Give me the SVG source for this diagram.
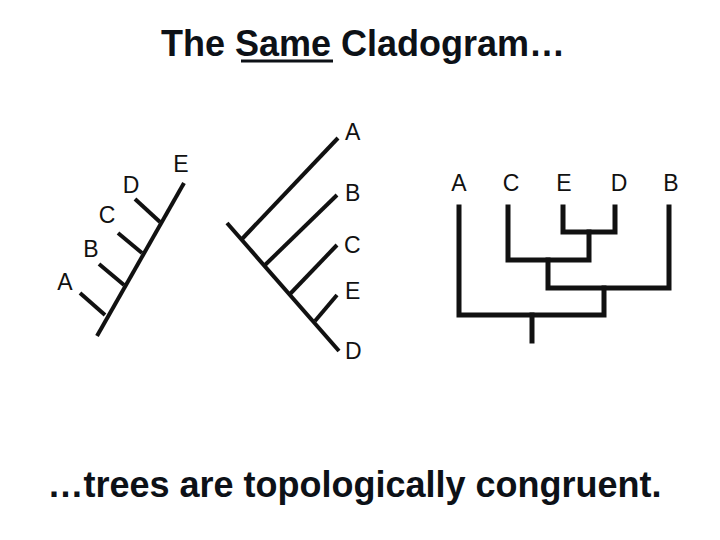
<svg xmlns="http://www.w3.org/2000/svg" width="720" height="540" viewBox="0 0 720 540">
<style>
.t{font-family:"Liberation Sans",Arial,sans-serif;font-weight:bold;font-size:36px;fill:#0d1117}
.l{font-family:"Liberation Sans",Arial,sans-serif;font-size:23px;fill:#111}
.e{stroke:#111;stroke-width:4;fill:none;stroke-linecap:butt}
.r{stroke:#111;stroke-width:5;fill:none;stroke-linecap:square;stroke-linejoin:miter}
</style>
<rect width="720" height="540" fill="#fff"/>
<g id="title">
<text class="t" x="363" y="56" text-anchor="middle">The Same Cladogram…</text>
<line x1="241" y1="61" x2="333" y2="61" stroke="#0d1117" stroke-width="3"/>
</g>
<g id="caption">
<text class="t" x="354.5" y="497" text-anchor="middle">…trees are topologically congruent.</text>
</g>
<g id="connectors">
<!-- left tree -->
<line class="e" x1="97" y1="336" x2="184" y2="183"/>
<line class="e" x1="80" y1="293" x2="105" y2="315"/>
<line class="e" x1="99" y1="264" x2="124" y2="285"/>
<line class="e" x1="118" y1="233" x2="142" y2="253"/>
<line class="e" x1="135" y1="199" x2="160" y2="222"/>
<!-- middle tree -->
<line class="e" x1="227" y1="223" x2="339" y2="351"/>
<line class="e" x1="242" y1="239" x2="338" y2="138"/>
<line class="e" x1="265" y1="265" x2="337" y2="195"/>
<line class="e" x1="290" y1="294" x2="337" y2="245"/>
<line class="e" x1="315" y1="321" x2="337" y2="295"/>
<!-- right tree -->
<path class="r" d="M459 207 V315 H604 V288"/>
<path class="r" d="M669 207 V288 H548 V260"/>
<path class="r" d="M508 207 V260 H589 V232"/>
<path class="r" d="M563 207 V232 H615 V207"/>
<path class="r" d="M532 315 V341"/>
</g>
<g id="left-A"><text class="l" x="65" y="290" text-anchor="middle">A</text></g>
<g id="left-B"><text class="l" x="91" y="257" text-anchor="middle">B</text></g>
<g id="left-C"><text class="l" x="107" y="223" text-anchor="middle">C</text></g>
<g id="left-D"><text class="l" x="131" y="193" text-anchor="middle">D</text></g>
<g id="left-E"><text class="l" x="181" y="172" text-anchor="middle">E</text></g>
<g id="mid-A"><text class="l" x="345" y="140">A</text></g>
<g id="mid-B"><text class="l" x="345" y="201">B</text></g>
<g id="mid-C"><text class="l" x="344" y="253">C</text></g>
<g id="mid-E"><text class="l" x="345" y="299">E</text></g>
<g id="mid-D"><text class="l" x="345" y="359">D</text></g>
<g id="right-A"><text class="l" x="459" y="191" text-anchor="middle">A</text></g>
<g id="right-C"><text class="l" x="511" y="191" text-anchor="middle">C</text></g>
<g id="right-E"><text class="l" x="564" y="191" text-anchor="middle">E</text></g>
<g id="right-D"><text class="l" x="619" y="191" text-anchor="middle">D</text></g>
<g id="right-B"><text class="l" x="671" y="191" text-anchor="middle">B</text></g>
</svg>
